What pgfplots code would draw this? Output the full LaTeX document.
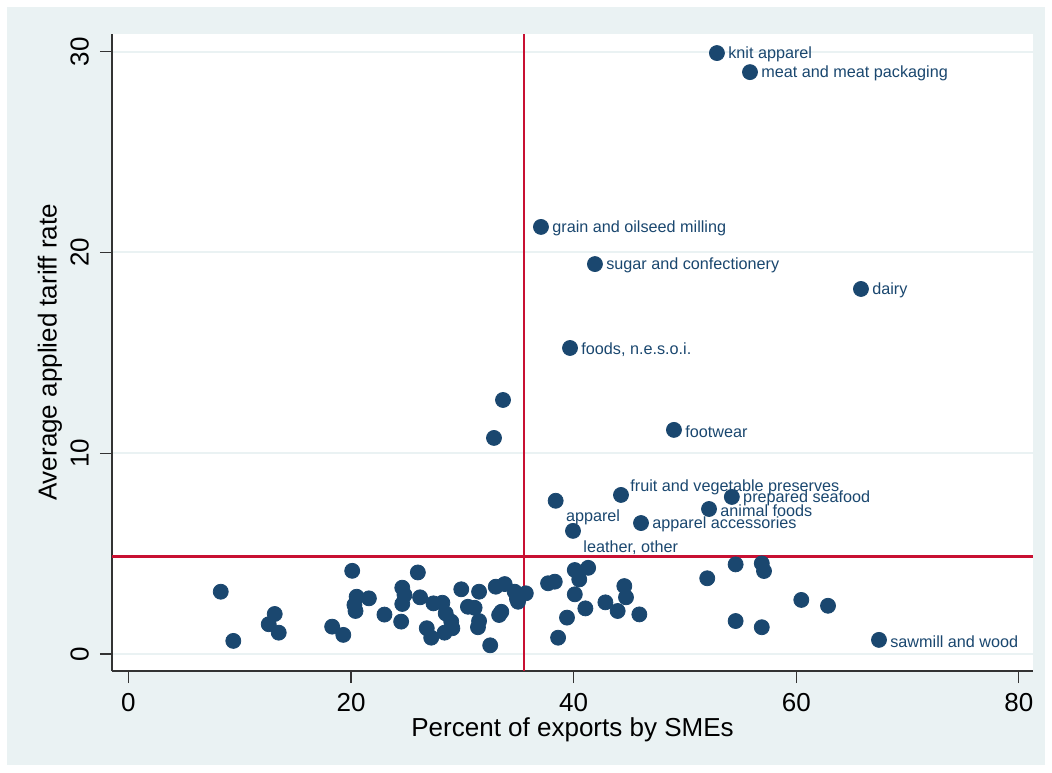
\documentclass[border=0pt]{standalone}
\usepackage{fontspec}
\setmainfont{Liberation Sans}
\usepackage{pgfplots}
\pgfplotsset{compat=1.18}
\definecolor{bgblue}{RGB}{234,242,243}
\definecolor{stnavy}{RGB}{26,71,111}
\definecolor{stred}{RGB}{200,16,50}
\begin{document}
\begin{tikzpicture}
\fill[white] (-56pt,-50.5pt) rectangle (470pt,335.5pt);
\fill[bgblue] (-52.5pt,-47pt) rectangle (466.5pt,332pt);
\begin{axis}[at={(0,0)}, anchor=south west, width=460.5pt, height=318.5pt, scale only axis,
 xmin=-1.48, xmax=81.27, ymin=-0.85, ymax=30.88,
 axis lines*=left, axis line style={black!80, line width=0.6pt},
 axis background/.style={fill=white},
 xtick={0,20,40,60,80}, ytick={0,10,20,30},
 tick align=outside, major tick length=6pt, tick style={black!80, line width=0.6pt},
 ymajorgrids, major grid style={bgblue, line width=1pt},
 ticklabel style={font=\fontsize{13}{15}\selectfont},
 /pgf/number format/assume math mode=true,
 yticklabel style={rotate=90, anchor=south},
 xticklabel shift=1.5pt, yticklabel shift=2pt,
 label style={font=\fontsize{13}{15}\selectfont},
 xlabel={Percent of exports by SMEs}, ylabel={Average applied tariff rate},
 xlabel style={at={(axis description cs:0.5,-0.0925)}, anchor=center},
 ylabel style={at={(axis description cs:-0.0673,0.5)}, anchor=center},
 clip=false,
 every axis plot/.append style={mark size=3.75pt, mark options={fill=stnavy, draw=stnavy}},
]
\addplot[only marks, mark=*] coordinates {
(8.29,3.10) (9.42,0.65) (13.14,1.99) (12.6,1.48) (13.5,1.06) (18.3,1.36) (19.3,0.95)
(20.1,4.14) (20.5,2.85) (20.3,2.44) (20.4,2.14) (21.6,2.77) (23.0,1.96) (24.5,1.61)
(24.6,3.30) (24.8,2.94) (24.6,2.49) (26.0,4.06) (26.2,2.82) (27.4,2.52) (28.2,2.55)
(28.5,2.02) (26.8,1.28) (27.2,0.81) (28.4,1.06) (29.0,1.61) (29.1,1.28) (29.9,3.22)
(31.5,3.10) (30.5,2.35) (31.1,2.30) (31.5,1.64) (31.4,1.33) (32.5,0.43) (33.0,3.35)
(33.8,3.48) (34.7,3.10) (35.0,2.60) (34.9,2.75) (35.7,3.02) (33.5,2.10) (33.3,1.94)
(37.7,3.52) (38.3,3.60) (38.6,0.81) (40.1,4.18) (41.3,4.29) (40.5,3.71) (40.1,2.97)
(39.4,1.81) (41.05,2.27) (42.85,2.57) (43.95,2.14) (44.55,3.38) (44.7,2.82) (45.9,1.97)
(52.0,3.77) (54.55,4.46) (56.9,4.51) (57.1,4.13) (54.55,1.64) (56.9,1.33) (60.45,2.69)
(62.85,2.40) (33.65,12.65) (32.84,10.76)
};
\addplot[only marks, mark=*, point meta=explicit symbolic, nodes near coords,
 nodes near coords style={anchor=west, inner sep=0pt, xshift=5.5pt, yshift=-0.8pt, font=\fontsize{8.1}{9.7}\selectfont, text=stnavy}]
coordinates {
(52.87,29.93) [knit apparel]
(55.84,28.98) [meat and meat packaging]
(37.06,21.27) [grain and oilseed milling]
(41.91,19.42) [sugar and confectionery]
(65.81,18.18) [dairy]
(39.67,15.24) [{foods, n.e.s.o.i.}]
(49.01,11.16) [footwear]
(54.21,7.82) [prepared seafood]
(52.16,7.22) [animal foods]
(46.05,6.52) [apparel accessories]
(67.43,0.70) [sawmill and wood]
};
\addplot[only marks, mark=*, point meta=explicit symbolic, nodes near coords,
 nodes near coords style={anchor=west, inner sep=0pt, xshift=4.5pt, yshift=3.8pt, font=\fontsize{8.1}{9.7}\selectfont, text=stnavy}]
coordinates {
(44.25,7.92) [fruit and vegetable preserves]
};
\addplot[only marks, mark=*, point meta=explicit symbolic, nodes near coords,
 nodes near coords style={anchor=west, inner sep=0pt, xshift=5pt, yshift=-8.4pt, font=\fontsize{8.1}{9.7}\selectfont, text=stnavy}]
coordinates {
(38.38,7.63) [apparel]
(39.94,6.13) [{leather, other}]
};
\addplot[stred, line width=1.2pt, mark=none] coordinates {(35.53,-0.85) (35.53,30.88)};
\addplot[stred, line width=1.2pt, mark=none] coordinates {(-1.48,4.85) (81.27,4.85)};
\end{axis}
\end{tikzpicture}
\end{document}
